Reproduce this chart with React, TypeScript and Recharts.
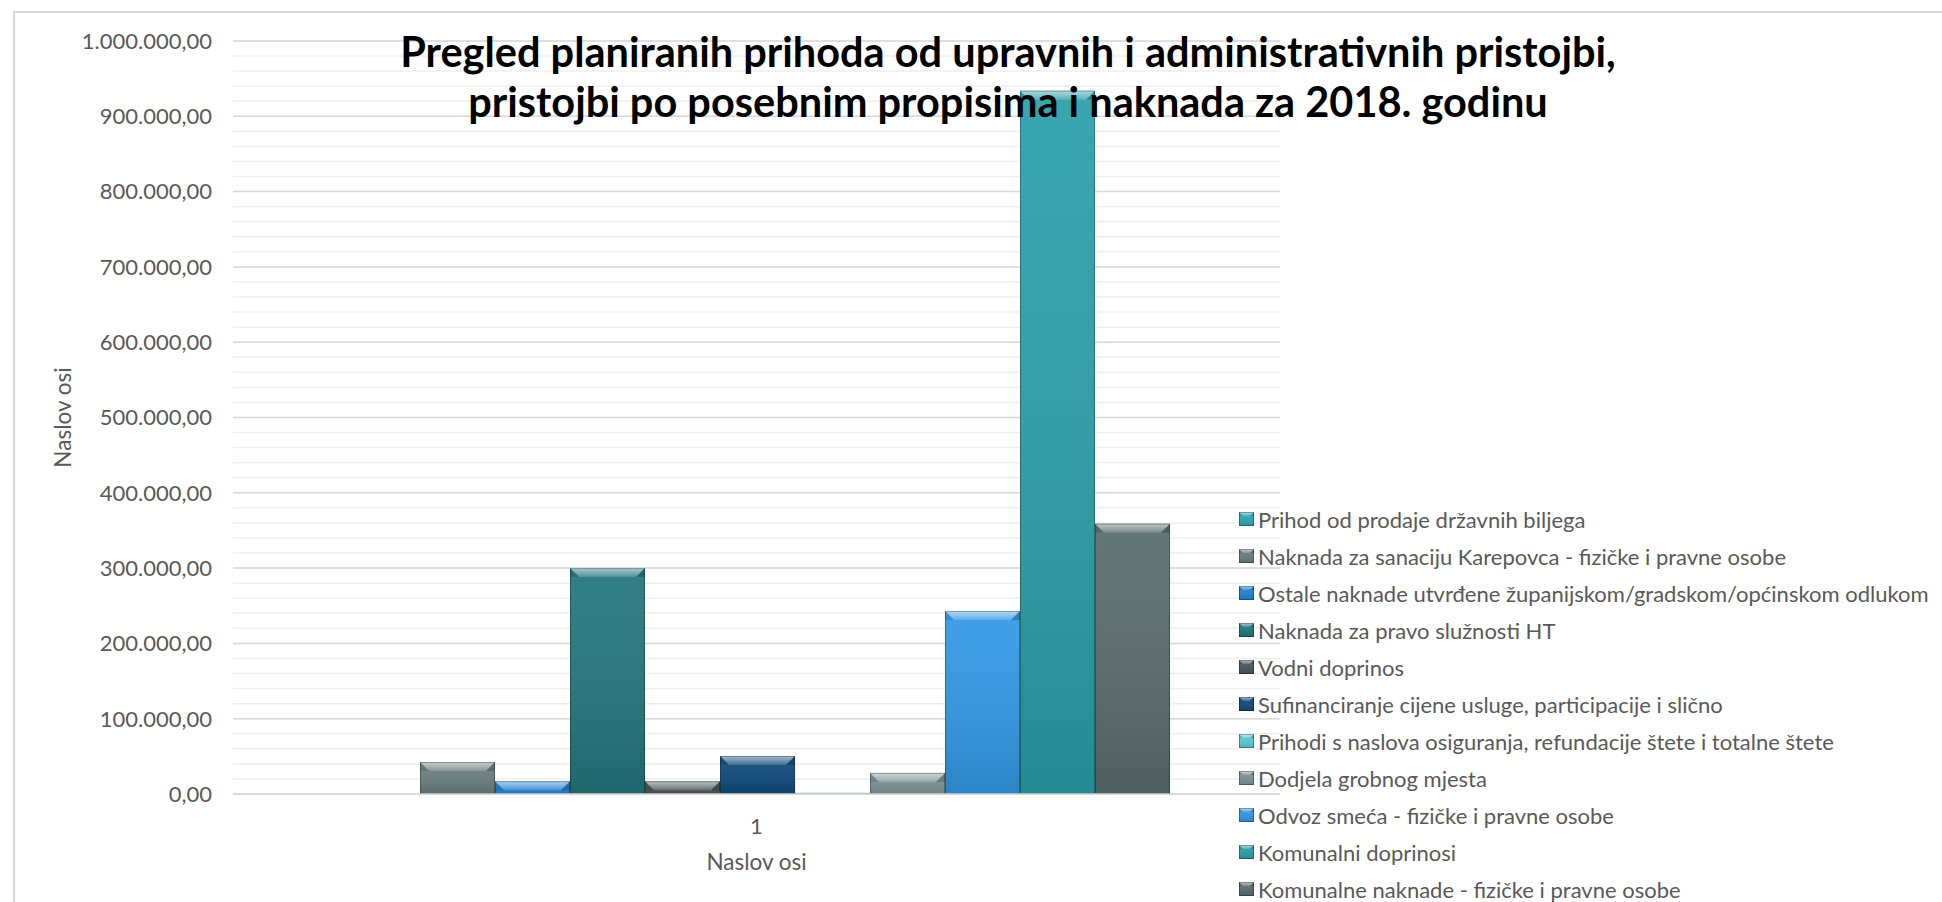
import React from 'react';
import { BarChart, Bar, XAxis, YAxis, CartesianGrid, Legend } from 'recharts';

const categories = ['1'];

const seriesNames = [
  'Prihod od prodaje državnih biljega',
  'Naknada za sanaciju Karepovca - fizičke i pravne osobe',
  'Ostale naknade utvrđene županijskom/gradskom/općinskom odlukom',
  'Naknada za pravo služnosti HT',
  'Vodni doprinos',
  'Sufinanciranje cijene usluge, participacije i slično',
  'Prihodi s naslova osiguranja, refundacije štete i totalne štete',
  'Dodjela grobnog mjesta',
  'Odvoz smeća - fizičke i pravne osobe',
  'Komunalni doprinosi',
  'Komunalne naknade - fizičke i pravne osobe',
];

const seriesValues = [0, 42500, 17000, 300000, 17000, 50500, 1500, 28000, 243000, 934000, 359000];

const seriesColors = [
  '#2fa9b6',
  '#6c7f80',
  '#2184d6',
  '#23777d',
  '#4b5859',
  '#0f4b7c',
  '#5fc9d4',
  '#809596',
  '#3399e6',
  '#2ca0a9',
  '#5b6d6e',
];

const yTicks = [0, 100000, 200000, 300000, 400000, 500000, 600000, 700000, 800000, 900000, 1000000];
const minorStep = 20000;
const minorTicks = Array.from({ length: 51 }, (_, i) => i * minorStep);

const data = categories.map((c) => {
  const row: Record<string, string | number> = { name: c };
  seriesValues.forEach((v, i) => {
    row['s' + i] = v;
  });
  return row;
});

const FONT = 'Lato, "Open Sans", sans-serif';
const TEXT = '#595959';

const fmt = (v: number) => {
  const int = Math.round(v).toString().replace(/\B(?=(\d{3})+(?!\d))/g, '.');
  return int + ',00';
};

const BevelBar = (props: any) => {
  const { x, y, width, height, fill, bevel = 9 } = props;
  if (!(height > 0.4)) return <g />;
  const d = Math.min(bevel, height, width / 2);
  return (
    <g>
      <rect x={x} y={y} width={width} height={height} fill={fill} />
      <rect x={x} y={y} width={width} height={height} fill="url(#barShade)" />
      <polygon
        points={`${x},${y} ${x + width},${y} ${x + width - d},${y + d} ${x + d},${y + d}`}
        fill="url(#bevelTop)"
      />
      <polygon points={`${x},${y} ${x + d},${y + d} ${x},${y + d}`} fill="rgba(0,0,0,0.12)" />
      <polygon
        points={`${x + width},${y} ${x + width - d},${y + d} ${x + width},${y + d}`}
        fill="rgba(0,0,0,0.2)"
      />
      <rect
        x={x + 0.5}
        y={y + 0.5}
        width={Math.max(width - 1, 0)}
        height={Math.max(height - 1, 0)}
        fill="none"
        stroke="rgba(0,0,0,0.3)"
        strokeWidth={1}
      />
    </g>
  );
};

const LegendBox = () => (
  <div style={{ fontFamily: FONT, fontSize: 22, color: TEXT }}>
    {seriesNames.map((n, i) => (
      <div key={n} style={{ display: 'flex', alignItems: 'center', height: 37, whiteSpace: 'nowrap' }}>
        <svg width={16} height={15} style={{ marginRight: 3 }}>
          <BevelBar x={0} y={0} width={15} height={14} fill={seriesColors[i]} bevel={4} />
        </svg>
        <span>{n}</span>
      </div>
    ))}
  </div>
);

export default function App() {
  return (
    <div style={{ position: 'relative', width: 1942, height: 902, overflow: 'hidden', background: '#fff' }}>
      <style>{'body{margin:0;overflow:hidden}'}</style>
      <div
        style={{
          position: 'absolute',
          left: 13,
          top: 11,
          width: 2200,
          height: 1200,
          borderLeft: '2px solid #d9d9d9',
          borderTop: '2px solid #d9d9d9',
        }}
      />
      <div style={{ position: 'absolute', left: 0, top: 0 }}>
        <BarChart
          width={1942}
          height={902}
          data={data}
          margin={{ top: 41, right: 662, left: 0, bottom: 38 }}
          barCategoryGap="10.7%"
          barGap={0}
        >
          <defs>
            <linearGradient id="barShade" x1="0" y1="0" x2="0" y2="1">
              <stop offset="0%" stopColor="#ffffff" stopOpacity={0.06} />
              <stop offset="100%" stopColor="#000000" stopOpacity={0.14} />
            </linearGradient>
            <linearGradient id="bevelTop" x1="0" y1="0" x2="0" y2="1">
              <stop offset="0%" stopColor="#ffffff" stopOpacity={0.6} />
              <stop offset="100%" stopColor="#ffffff" stopOpacity={0.15} />
            </linearGradient>
          </defs>
          <CartesianGrid vertical={false} stroke="#efefef" strokeWidth={1.5} horizontalValues={minorTicks} />
          <CartesianGrid vertical={false} stroke="#d9d9d9" strokeWidth={1.5} />
          <XAxis
            dataKey="name"
            height={70}
            tickLine={false}
            tickSize={0}
            tickMargin={24}
            axisLine={{ stroke: '#d9d9d9', strokeWidth: 1.5 }}
            tick={{ fontFamily: FONT, fontSize: 22, fill: TEXT }}
            label={(p: any) => {
              const vb = p.viewBox;
              return (
                <text
                  x={vb.x + vb.width / 2}
                  y={vb.y + 76}
                  textAnchor="middle"
                  fontFamily={FONT}
                  fontSize={22.5}
                  fill={TEXT}
                >
                  Naslov osi
                </text>
              );
            }}
          />
          <YAxis
            width={233}
            domain={[0, 1000000]}
            ticks={yTicks}
            interval={0}
            axisLine={false}
            tickLine={false}
            tickSize={0}
            tickMargin={21}
            tickFormatter={fmt}
            tick={{ fontFamily: FONT, fontSize: 22, fill: TEXT }}
            label={(p: any) => {
              const vb = p.viewBox;
              const cy = vb.y + vb.height / 2;
              return (
                <text
                  x={62}
                  y={cy}
                  transform={`rotate(-90, 62, ${cy})`}
                  textAnchor="middle"
                  dominantBaseline="central"
                  fontFamily={FONT}
                  fontSize={22.5}
                  fill={TEXT}
                >
                  Naslov osi
                </text>
              );
            }}
          />
          {seriesNames.map((n, i) => (
            <Bar
              key={n}
              dataKey={'s' + i}
              name={n}
              fill={seriesColors[i]}
              isAnimationActive={false}
              shape={(p: any) => <BevelBar {...p} />}
            />
          ))}
          <Legend
            layout="vertical"
            align="center"
            verticalAlign="middle"
            wrapperStyle={{ left: 1239, top: 501, width: 700, height: 420 }}
            content={() => <LegendBox />}
          />
        </BarChart>
      </div>
      <div
        style={{
          position: 'absolute',
          left: 0,
          top: 26,
          width: 2016,
          textAlign: 'center',
          fontFamily: FONT,
          fontWeight: 700,
          fontSize: 41.5,
          lineHeight: '50px',
          color: '#000',
          pointerEvents: 'none',
        }}
      >
        Pregled planiranih prihoda od upravnih i administrativnih pristojbi,
        <br />
        pristojbi po posebnim propisima i naknada za 2018. godinu
      </div>
    </div>
  );
}
